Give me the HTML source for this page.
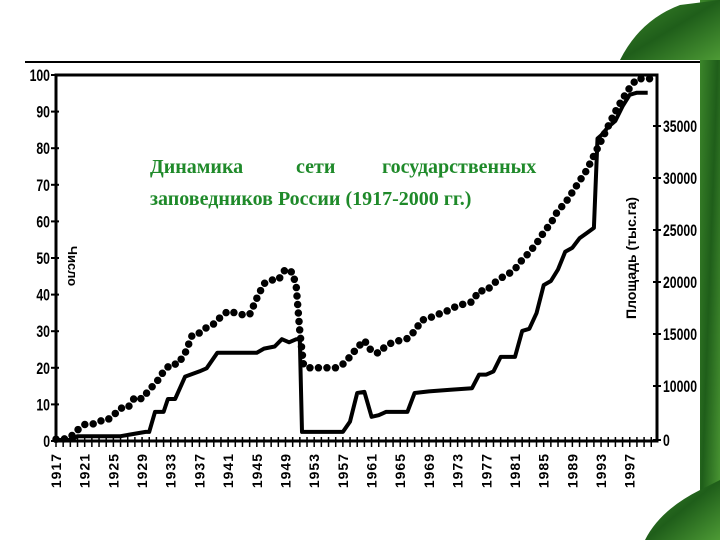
<!DOCTYPE html>
<html><head><meta charset="utf-8"><style>
html,body{margin:0;padding:0;background:#fff;}
svg{display:block;}
text{font-family:"Liberation Sans",sans-serif;font-weight:bold;}
</style></head><body>
<svg width="720" height="540" viewBox="0 0 720 540" id="svg">
<defs>
<linearGradient id="lg" x1="0" y1="0" x2="1" y2="1"><stop offset="0" stop-color="#3f8a2c"/><stop offset="0.5" stop-color="#1f5e1a"/><stop offset="1" stop-color="#4d9a35"/></linearGradient>
</defs>
<g>
<rect x="700" y="0" width="20" height="540" fill="url(#lg)"/>
<path d="M620,60 Q640,20 680,5 L720,0 L720,60 Z" fill="url(#lg)"/>
<path d="M645,540 Q660,510 700,490 L720,480 L720,540 Z" fill="url(#lg)"/>
</g>
<rect x="25" y="62" width="675" height="428" fill="#fff"/>
<line x1="25" y1="62" x2="700" y2="62" stroke="#000" stroke-width="2"/>
<g id="plot"></g>
<text y="173" style="font-family:'Liberation Serif',serif;font-weight:bold" font-size="20" fill="#1f8a2a"><tspan x="150">Динамика</tspan><tspan x="296">сети</tspan><tspan x="382">государственных</tspan></text>
<text x="150" y="205" style="font-family:'Liberation Serif',serif;font-weight:bold" font-size="20" fill="#1f8a2a">заповедников России (1917-2000 гг.)</text>
</svg>
<script>
const countYears=[1917,1918,1919,1920,1921,1922,1923,1924,1925,1926,1927,1928,1929,1930,1931,1932,1933,1934,1935,1936,1937,1938,1939,1940,1941,1942,1943,1944,1945,1946,1947,1948,1949,1950,1950.5,1951,1951.5,1952,1953,1954,1955,1956,1957,1958,1959,1960,1961,1962,1963,1964,1965,1966,1967,1968,1969,1970,1971,1972,1973,1974,1975,1976,1977,1978,1979,1980,1981,1982,1983,1984,1985,1986,1987,1988,1989,1990,1991,1992,1993,1994,1995,1996,1997,1998,1999,2000];
const countValues=[0.5,0.5,1,3,4.5,4.5,5.5,5.5,7,9,9,12,11.5,14,16,19,21,21,24,29,29.5,31,32,34,35.5,35,34.5,34.5,39,43,44,44,47,46,42,30,21,20,20,20,20,20,21,23,25.5,27.5,24.5,24,26,27,27.5,28,30,33,33.5,34.5,35,36,37,37.5,38,41,41,43,44.5,45.5,47,49.5,51.5,54,57,59.5,63,65,68,71,74,78,82,86,90,93.5,96.5,99,99,99];
const areaYears=[1917,1919,1920,1926,1929.5,1930,1930.8,1932,1932.6,1933.6,1935,1937,1938,1939.5,1945,1946,1947.5,1948.5,1949.5,1950.5,1951,1951.3,1957,1958,1959,1960,1961,1962,1963,1966,1967,1969,1972,1975,1976,1977,1978,1979,1981,1982,1983,1984,1985,1986,1987,1988,1989,1990,1991,1992,1992.5,1993,1994,1995,1996,1997,1998,1999.5];
const areaValues=[0,0,0.7,0.7,1.5,1.5,5.2,5.2,7.6,7.6,10.9,11.4,11.7,13.2,13.2,13.6,13.8,14.5,14.2,14.5,14.5,1.5,1.5,3.4,8.7,8.9,4.3,4.6,5.2,5.2,8.7,9.0,9.3,9.6,11.1,11.1,11.4,12.8,12.8,15.3,15.5,17.0,19.7,20.1,21.2,22.9,23.3,24.2,24.7,25.2,33.8,34.1,34.9,35.5,36.9,38.0,38.2,38.2];
const leftTicks=[0,10,20,30,40,50,60,70,80,90,100];
const rightTicks=[0,10000,15000,20000,25000,30000,35000];
const yearLabels=[1917,1921,1925,1929,1933,1937,1941,1945,1949,1953,1957,1961,1965,1969,1973,1977,1981,1985,1989,1993,1997];

const NS='http://www.w3.org/2000/svg';
const g=document.getElementById('plot');
const X0=56,X1=657,Y0=441,Y1=75;
const x=yr=>X0+(yr-1917)*(X1-X0)/(2000.8-1917);
const yL=v=>Y0-v*(Y0-Y1)/100;
const yR=v=>v<=10000?440-v*54/10000:386-(v-10000)*260/25000;
function el(t,a,p){const e=document.createElementNS(NS,t);for(const k in a)e.setAttribute(k,a[k]);(p||g).appendChild(e);return e;}

const frame=el('path',{d:`M${X0},${Y0} L${X0},${Y1} L${X1},${Y1} L${X1},${Y0} Z`,fill:'none',stroke:'#000','stroke-width':3});


const xa=el('line',{x1:X0,y1:Y0,x2:X1,y2:Y0,stroke:'#000','stroke-width':3});



leftTicks.forEach(v=>{
  const t=el('line',{x1:X0-5,y1:yL(v),x2:X0+3,y2:yL(v),stroke:'#000','stroke-width':2});
  
  
  const l=el('text',{x:(X0-6)/0.72,y:yL(v)+6,'text-anchor':'end','font-size':17,transform:'scale(0.72,1)'});
  l.textContent=v;
  
  
});
rightTicks.forEach(v=>{
  const t=el('line',{x1:X1-4,y1:yR(v),x2:X1+4,y2:yR(v),stroke:'#000','stroke-width':2});
  
  
  const l=el('text',{x:(X1+6)/0.72,y:yR(v)+6,'font-size':17,transform:'scale(0.72,1)'});
  l.textContent=v;
  
  
});
for(let yr=1917;yr<=2000;yr++){
  const t=el('line',{x1:x(yr),y1:Y0-4,x2:x(yr),y2:Y0+6,stroke:'#000','stroke-width':1.5});
  
  
}
yearLabels.forEach(yr=>{
  const l=el('text',{x:0,y:0,'font-size':14,'text-anchor':'end','letter-spacing':'1',transform:`translate(${x(yr)+5},${Y0+12}) rotate(-90)`});
  l.textContent=yr;
  
  
});
const yt=el('text',{x:0,y:0,'font-size':13,'text-anchor':'middle',transform:'translate(68,266) rotate(90)'});
yt.textContent='Число';


const rt=el('text',{x:0,y:0,'font-size':14,'text-anchor':'middle',transform:'translate(636,258) rotate(-90)'});
rt.textContent='Площадь (тыс.га)';



const ad=areaYears.map((yr,i)=>(i?'L':'M')+x(yr).toFixed(1)+','+yR(areaValues[i]*1000).toFixed(1)).join(' ');
const ap=el('path',{d:ad,fill:'none',stroke:'#000','stroke-width':4,'stroke-linejoin':'round'});


const cd=countYears.map((yr,i)=>(i?'L':'M')+x(yr).toFixed(1)+','+yL(countValues[i]).toFixed(1)).join(' ');
const cp=el('path',{d:cd,fill:'none',stroke:'#000','stroke-width':7.5,'stroke-linecap':'round','stroke-dasharray':'0 8.5'});


</script>
</body></html>
